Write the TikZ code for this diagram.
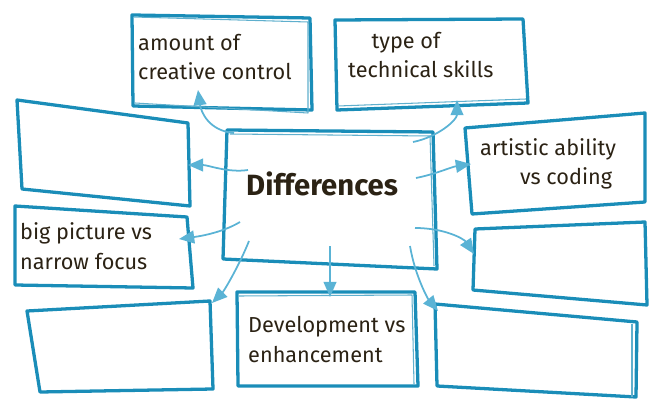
\documentclass[tikz,border=0pt]{standalone}
\usepackage{fontspec}
\setmainfont{Fira Sans}
\usepackage{tikz}
\usetikzlibrary{positioning}
\usetikzlibrary{arrows.meta}
\usetikzlibrary{calc}
\definecolor{boxblue}{HTML}{1A8DB8}
\definecolor{linkblue}{HTML}{5AB3D5}
\definecolor{ink}{HTML}{2B2214}

\begin{document}
\begin{tikzpicture}[x=0.03cm,y=-0.03cm]
\tikzset{box/.style={draw=boxblue, line width=2.8pt, line join=round}}
\tikzset{ghost/.style={draw=boxblue!70, line width=0.9pt, line join=round}}
\tikzset{link/.style={draw=linkblue, line width=1.5pt, -{Triangle[length=13pt,width=11pt]}}}
\tikzset{label/.style={text=ink, font=\fontsize{18.5}{25.5}\selectfont, align=left, inner sep=0pt, anchor=base west}}
\tikzset{title/.style={text=ink, font=\fontsize{25}{30}\selectfont\bfseries, inner sep=0pt, anchor=base west}}
\useasboundingbox (0,0) rectangle (652,399);

% boxes
\draw[box] (132,15) -- (310,18) -- (312,110) -- (133,106) -- cycle;
\draw[ghost] (134,17) -- (308,22) -- (308,113) -- (135,103);
\draw[box] (335,20) -- (523,19) -- (528,103) -- (337,110) -- cycle;
\draw[ghost] (338,106) -- (526,99);
\draw[box] (17,100) -- (188,123) -- (190,206) -- (22,189) -- cycle;
\draw[box] (227,130) -- (433,132) -- (437,269) -- (223,259) -- cycle;
\draw[ghost] (230,134) -- (430,136) -- (434,266);
\draw[box] (465,128) -- (645,113) -- (645,202) -- (472,214) -- cycle;
\draw[box] (15,206) -- (187,217) -- (193,288) -- (15,285) -- cycle;
\draw[box] (475,229) -- (645,222) -- (647,305) -- (473,290) -- cycle;
\draw[box] (27,311) -- (210,301) -- (213,389) -- (40,392) -- cycle;
\draw[box] (237,292) -- (415,292) -- (418,386) -- (238,386) -- cycle;
\draw[ghost] (239,296) -- (412,295) -- (414,384);
\draw[box] (435,304) -- (637,322) -- (636,397) -- (437,386) -- cycle;
\draw[ghost] (632,324) -- (632,397);

% texts (placed at the baseline of the last line)
\node[title] (diff) at (246,195) {Differences};
\node[label] (amount) at (138,80) {amount of\\creative control};
\node[label] (technical) at (348,78) {\hspace*{20pt}type of\\technical skills};
\node[label] (artistic) at (480,185) {artistic ability\\\hspace*{34pt}vs coding};
\node[label] (bigpicture) at (20,269) {big picture vs\\narrow focus};
\node[label] (development) at (248,362) {Development vs\\enhancement};

% connector ends
\coordinate (tAmount) at (234,133);   \coordinate (hAmount) at (198,90);
\coordinate (tTech) at (413,142);     \coordinate (hTech) at (457,100);
\coordinate (tLeft) at (248,170);     \coordinate (hLeft) at (188,165);
\coordinate (tArt) at (416,178);      \coordinate (hArt) at (471,164);
\coordinate (tBig) at (240,222);      \coordinate (hBig) at (179,239);
\coordinate (tLow) at (249,241);      \coordinate (hLow) at (212,303);
\coordinate (tDev) at (330,246);      \coordinate (hDev) at (330,297);
\coordinate (tMid) at (415,228);      \coordinate (hMid) at (474,254);
\coordinate (tEnd) at (410,246);      \coordinate (hEnd) at (438,311);

% connectors
\draw[link] (tAmount) .. controls +(-25,-2) and +(3,22) .. (hAmount);
\draw[link] (tTech) .. controls +(25,-5) and +(0,20) .. (hTech);
\draw[link] (tLeft) .. controls +(-20,3) and +(20,0) .. (hLeft);
\draw[link] (tArt) .. controls +(20,-4) and +(-20,3) .. (hArt);
\draw[link] (tBig) .. controls +(-20,12) and +(15,-2) .. (hBig);
\draw[link] (tLow) .. controls +(-10,25) and +(12,-12) .. (hLow);
\draw[link] (tDev) -- (hDev);
\draw[link] (tMid) .. controls +(30,0) and +(-10,-15) .. (hMid);
\draw[link] (tEnd) .. controls +(5,30) and +(-10,-12) .. (hEnd);
\end{tikzpicture}
\end{document}
